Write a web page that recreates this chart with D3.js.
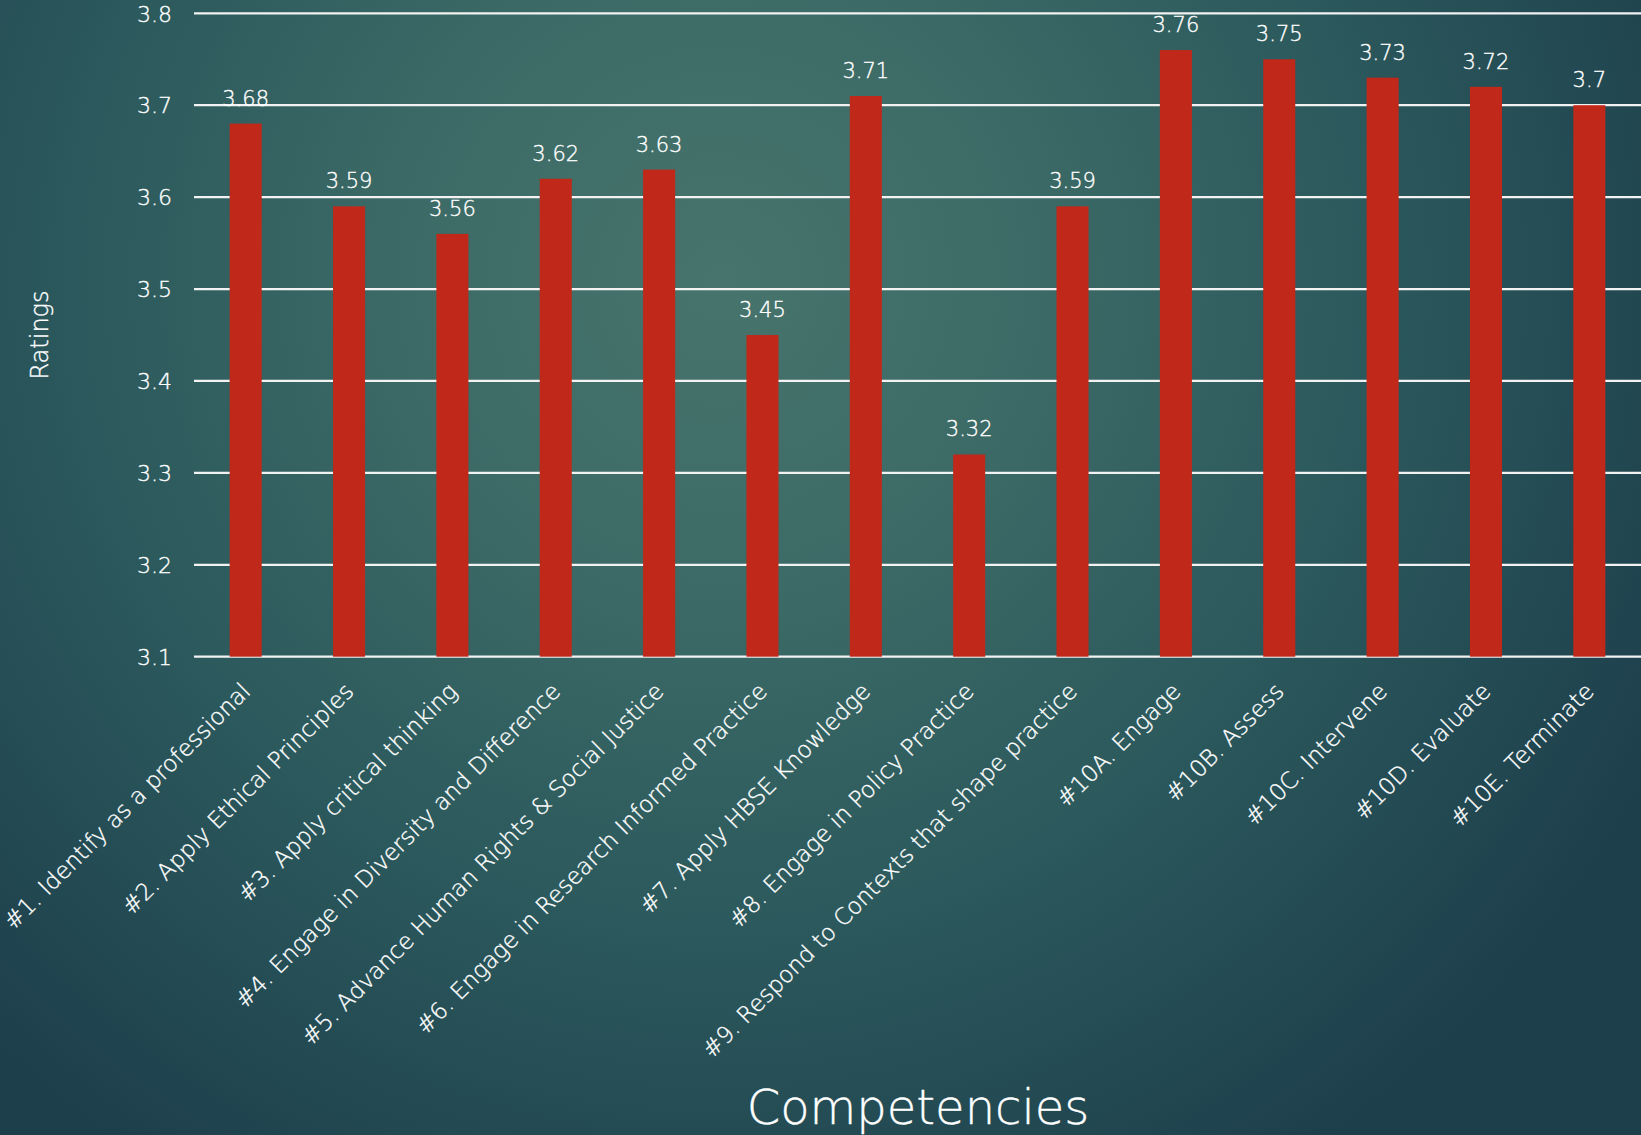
<!DOCTYPE html>
<html>
<head>
<meta charset="utf-8">
<script src="https://cdn.jsdelivr.net/npm/d3@7"></script>
<style>
  html, body { margin: 0; padding: 0; background: #24495a; }
  svg { display: block; }
  text { font-family: "Century Gothic", "URW Gothic", "DejaVu Sans", sans-serif; font-weight: 200; fill: #ffffff; stroke: #ffffff; stroke-width: 0.35px; }
</style>
</head>
<body>
<svg id="chart" width="1641" height="1135"></svg>
<script>
// Competency ratings
const categories = [
  "#1. Identify as a professional",
  "#2. Apply Ethical Principles",
  "#3. Apply critical thinking",
  "#4. Engage in Diversity and Difference",
  "#5. Advance Human Rights & Social Justice",
  "#6. Engage in Research Informed Practice",
  "#7. Apply HBSE Knowledge",
  "#8. Engage in Policy Practice",
  "#9. Respond to Contexts that shape practice",
  "#10A. Engage",
  "#10B. Assess",
  "#10C. Intervene",
  "#10D. Evaluate",
  "#10E. Terminate"
];
const ratings = [3.68, 3.59, 3.56, 3.62, 3.63, 3.45, 3.71, 3.32, 3.59, 3.76, 3.75, 3.73, 3.72, 3.7];
const yTicks = [3.1, 3.2, 3.3, 3.4, 3.5, 3.6, 3.7, 3.8];
const xTitle = "Competencies";
const yTitle = "Ratings";

const W = 1641, H = 1135;
const svg = d3.select("#chart");

// Background: soft teal radial glow fading to dark slate at the edges
const defs = svg.append("defs");
const bg = defs.append("radialGradient")
  .attr("id", "bg").attr("gradientUnits", "userSpaceOnUse")
  .attr("cx", 720).attr("cy", 280).attr("r", 1050)
  .attr("fx", 720).attr("fy", 280);
bg.append("stop").attr("offset", "0%").attr("stop-color", "#47746c");
bg.append("stop").attr("offset", "30%").attr("stop-color", "#3c6a66");
bg.append("stop").attr("offset", "60%").attr("stop-color", "#2c5a5d");
bg.append("stop").attr("offset", "100%").attr("stop-color", "#1d3f4c");
svg.append("rect").attr("width", W).attr("height", H).attr("fill", "url(#bg)");

const y = d3.scaleLinear().domain([3.1, 3.8]).range([656.7, 13.3]);
const x = d3.scaleBand().domain(categories).range([194, W])
  .paddingInner(0.69).paddingOuter(0.345);

// Horizontal gridlines
svg.append("g").selectAll("line").data(yTicks).join("line")
  .attr("x1", 194).attr("x2", W)
  .attr("y1", d => y(d)).attr("y2", d => y(d))
  .attr("stroke", "#f2f2f2").attr("stroke-width", 2.2);

// Y axis tick labels
const yAxis = d3.axisLeft(y).tickValues(yTicks).tickSize(0).tickPadding(0)
  .tickFormat(d3.format(".1f"));
const gy = svg.append("g").attr("transform", "translate(172,0)").call(yAxis);
gy.select(".domain").remove();
gy.selectAll("text").attr("font-size", 22).attr("fill", "#ffffff")
  .style("font-family", null).attr("dy", "0.35em");

// Bars
svg.append("g").selectAll("rect").data(ratings).join("rect")
  .attr("x", (d, i) => x(categories[i]))
  .attr("width", x.bandwidth())
  .attr("y", d => y(d))
  .attr("height", d => y(3.1) - y(d))
  .attr("fill", "#c0281a");

// Value labels
svg.append("g").selectAll("text").data(ratings).join("text")
  .attr("x", (d, i) => x(categories[i]) + x.bandwidth() / 2)
  .attr("y", d => y(d) - 18)
  .attr("text-anchor", "middle")
  .attr("font-size", 21)
  .text(d => String(d));

// Rotated category labels
svg.append("g").selectAll("text").data(categories).join("text")
  .attr("transform", d => `translate(${x(d) + x.bandwidth() / 2 + 6},${y(3.1) + 36}) rotate(-45)`)
  .attr("text-anchor", "end")
  .attr("font-size", 23)
  .text(d => d);

// Axis titles
svg.append("text")
  .attr("transform", "translate(48,335) rotate(-90)")
  .attr("text-anchor", "middle")
  .attr("font-size", 24)
  .text(yTitle);

svg.append("text")
  .attr("x", 918).attr("y", 1124)
  .attr("text-anchor", "middle")
  .attr("font-size", 48)
  .text(xTitle);
</script>
</body>
</html>
